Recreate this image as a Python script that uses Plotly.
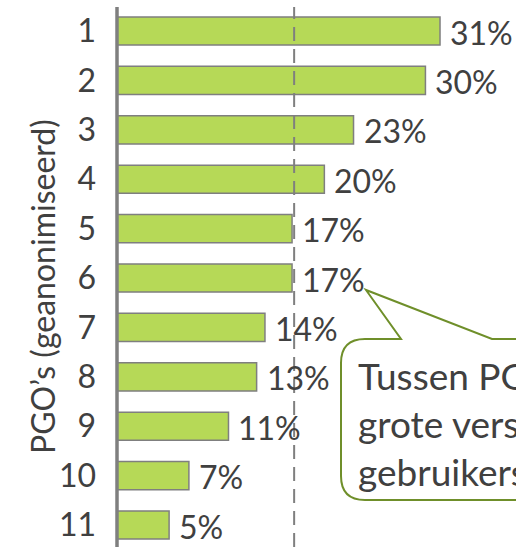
import plotly.graph_objects as go

# ---- data ----
categories = ["1", "2", "3", "4", "5", "6", "7", "8", "9", "10", "11"]
positions = [1, 2, 3, 4, 5, 6, 7, 8, 9, 10, 11]
values = [31.0, 29.6, 22.7, 19.9, 16.8, 16.8, 14.2, 13.4, 10.7, 6.9, 5.0]
value_labels = ["31%", "30%", "23%", "20%", "17%", "17%", "14%", "13%", "11%", "7%", "5%"]
average = 17.0
axis_title = "PGO’s (geanonimiseerd)"
callout_text = "Tussen PGO’s zijn<br>grote verschillen in<br>gebruikersaantallen"

# ---- style ----
FONT = "Lato"
TXT = "#404040"
W, H = 516, 547
ZERO_PX = 117          # pixel where x=0 sits
SCALE = 10.42          # pixels per percent
ML, MR, MT, MB = 100, 0, 7, 0
PW, PH = W - ML - MR, H - MT - MB
X0 = -(ZERO_PX - ML) / SCALE
X1 = X0 + PW / SCALE

def px(xp):
    return (xp - ML) / PW

def py(yp):
    return 1 - (yp - MT) / PH

fig = go.Figure()
fig.add_trace(go.Bar(
    x=values, y=positions, orientation="h", width=0.57,
    marker=dict(color="#b6d957", line=dict(color="#7f7f7f", width=1.5)),
    hoverinfo="skip",
))

annotations = []
for v, p, lab in zip(values, positions, value_labels):
    annotations.append(dict(
        x=v, y=p, xref="x", yref="y", text=lab, showarrow=False,
        xanchor="left", yanchor="middle", xshift=8, yshift=-1,
        font=dict(family=FONT, size=32, color=TXT),
    ))

# y-axis title
annotations.append(dict(
    x=px(42), y=py(287), xref="paper", yref="paper", text=axis_title,
    showarrow=False, textangle=-90, xanchor="center", yanchor="middle",
    font=dict(family=FONT, size=32, color=TXT),
))

# callout text
annotations.append(dict(
    x=px(356), y=py(423), xref="paper", yref="paper", text=callout_text,
    showarrow=False, xanchor="left", yanchor="middle", align="left",
    font=dict(family=FONT, size=37, color=TXT),
))

# callout bubble path (pixel geometry converted to paper)
L, T, B, R, r = 341, 339, 500, 680, 24
def P(xp, yp):
    return f"{px(xp):.5f},{py(yp):.5f}"
path = (
    f"M {P(L + r, T)} L {P(401, T)} L {P(366, 290)} L {P(492, T)} "
    f"L {P(R - r, T)} Q {P(R, T)} {P(R, T + r)} L {P(R, B - r)} "
    f"Q {P(R, B)} {P(R - r, B)} L {P(L + r, B)} Q {P(L, B)} {P(L, B - r)} "
    f"L {P(L, T + r)} Q {P(L, T)} {P(L + r, T)} Z"
)

shapes = [
    dict(type="line", xref="x", yref="paper", x0=average, x1=average, y0=0, y1=1,
         line=dict(color="#7f7f7f", width=2, dash="14px,8px"), layer="above"),
    dict(type="line", xref="x", yref="paper", x0=0, x1=0, y0=0, y1=1,
         line=dict(color="#7f7f7f", width=3.5), layer="above"),
    dict(type="path", xref="paper", yref="paper", path=path,
         fillcolor="white", line=dict(color="#6f8f2a", width=2), layer="above"),
]

fig.update_layout(
    width=W, height=H,
    margin=dict(l=ML, r=MR, t=MT, b=MB, pad=0),
    paper_bgcolor="white", plot_bgcolor="white",
    showlegend=False,
    xaxis=dict(range=[X0, X1], visible=False, fixedrange=True),
    yaxis=dict(
        range=[11.445, 0.514], tickmode="array", tickvals=positions,
        ticktext=categories, showgrid=False, zeroline=False, showline=False,
        ticks="", ticklabelstandoff=3,
        tickfont=dict(family=FONT, size=32, color=TXT), fixedrange=True,
    ),
    annotations=annotations,
    shapes=shapes,
)

fig.write_html(
    "out.html",
    config={"displayModeBar": False},
    post_script="document.body.style.margin='0';document.body.style.overflow='hidden';",
)
